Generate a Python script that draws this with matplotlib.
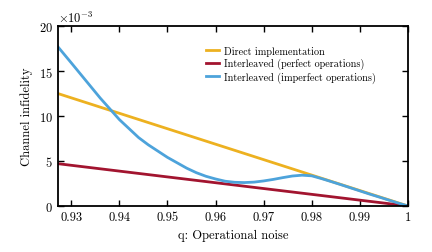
import matplotlib
matplotlib.use("Agg")
import matplotlib.pyplot as plt
import matplotlib.ticker as ticker
import numpy as np


# direct implementation and perfect interleaving are straight lines
q_lines = [0.9272, 1.0]
direct = [12.5e-3, 0.0]
perfect = [4.7e-3, 0.0]

# imperfect interleaving
q_imperfect = [
	0.9272, 0.930, 0.932, 0.934, 0.936, 0.938, 0.940, 0.942, 0.944, 0.946,
	0.948, 0.950, 0.952, 0.954, 0.956, 0.958, 0.960, 0.962, 0.964, 0.966,
	0.968, 0.970, 0.972, 0.974, 0.976, 0.978, 0.980, 0.982, 0.984, 0.986,
	0.988, 0.990, 0.992, 0.995, 0.998, 1.0,
]
imperfect = [
	17.7, 15.9, 14.6, 13.3, 12.0, 10.8, 9.6, 8.6, 7.6, 6.8,
	6.1, 5.4, 4.8, 4.2, 3.7, 3.3, 3.0, 2.75, 2.63, 2.6,
	2.65, 2.78, 2.95, 3.15, 3.33, 3.42, 3.35, 3.05, 2.72, 2.38,
	2.03, 1.68, 1.33, 0.83, 0.32, 0.0,
]
imperfect = [v * 1e-3 for v in imperfect]

labels = [
	"Direct implementation",
	"Interleaved (perfect operations)",
	"Interleaved (imperfect operations)",
]
xticks = [0.93, 0.94, 0.95, 0.96, 0.97, 0.98, 0.99, 1.0]
yticks = [0, 0.005, 0.010, 0.015, 0.020]


plt.rcParams["font.family"] = "cmr10"
plt.rcParams["mathtext.fontset"] = "cm"
plt.rcParams["axes.formatter.use_mathtext"] = True
plt.rcParams["axes.unicode_minus"] = False

fig = plt.figure(figsize=(4.32, 2.53), dpi=100)
ax = fig.add_axes([0.134, 0.182, 0.81, 0.711])

lw = 2.0
ax.plot(q_lines, direct, color="#EDB120", linewidth=lw, label=labels[0])
ax.plot(q_lines, perfect, color="#A2142F", linewidth=lw, label=labels[1])
ax.plot(q_imperfect, imperfect, color="#4DA3DB", linewidth=lw, label=labels[2])

ax.set_xlim(0.9272, 1.0)
ax.set_ylim(0, 0.02)
ax.set_xticks(xticks)
ax.set_yticks(yticks)
ax.xaxis.set_major_formatter(ticker.FormatStrFormatter("%g"))
fmt = ticker.ScalarFormatter(useMathText=True)
fmt.set_powerlimits((-3, -3))
ax.yaxis.set_major_formatter(fmt)
ax.yaxis.get_offset_text().set_fontsize(9)

ax.tick_params(direction="in", top=True, right=True, length=4,
	width=1, labelsize=9)
for sp in ax.spines.values():
	sp.set_linewidth(1.3)

ax.set_xlabel("q: Operational noise", fontsize=9)
ax.set_ylabel("Channel infidelity", fontsize=9)

ax.legend(
	loc="upper left",
	bbox_to_anchor=(0.41, 0.92),
	frameon=False,
	fontsize=7.3,
	handlelength=1.2,
	handletextpad=0.5,
	labelspacing=0.25,
	borderpad=0,
)

plt.savefig("out.png", dpi=100)
plt.close()
